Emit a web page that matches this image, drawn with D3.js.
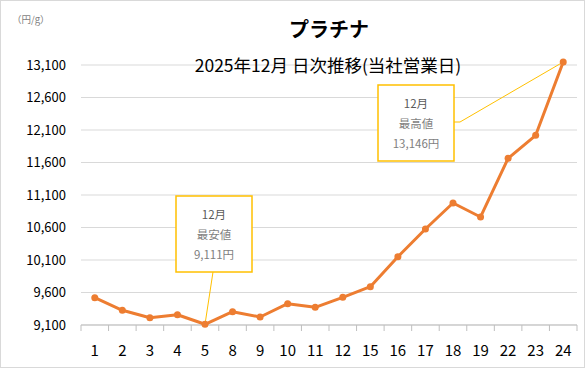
<!DOCTYPE html>
<html>
<head>
<meta charset="utf-8">
<script src="https://cdn.jsdelivr.net/npm/d3@7"></script>
<style>
  body { margin: 0; background: #fff; }
  text { font-family: "Noto Sans CJK JP", "Noto Sans", sans-serif; }
</style>
</head>
<body>
<div id="chart"></div>
<script>
// days (business days) and price in yen per gram
var days = ["1", "2", "3", "4", "5", "8", "9", "10", "11", "12", "15", "16", "17", "18", "19", "22", "23", "24"];
var prices = [9520, 9326, 9212, 9258, 9111, 9305, 9223, 9428, 9372, 9526, 9690, 10151, 10577, 10977, 10762, 11664, 12018, 13146];
var yTicks = [9100, 9600, 10100, 10600, 11100, 11600, 12100, 12600, 13100];

var width = 585,
    height = 368;

var lineColor = "#ED7D31",
    boxColor = "#FFC000";

var svg = d3.select("#chart")
  .append("svg")
  .attr("width", width)
  .attr("height", height);

// chart frame
svg.append("rect")
  .attr("x", 0.5).attr("y", 0.5)
  .attr("width", width - 1).attr("height", height - 1)
  .attr("fill", "#fff")
  .attr("stroke", "#d9d9d9");

var x = d3.scaleBand()
  .domain(days)
  .range([81, 577]);

var y = d3.scaleLinear()
  .domain([9100, 13100])
  .range([325, 65]);

// gridlines
svg.append("g")
  .selectAll("line")
  .data(yTicks)
  .enter().append("line")
  .attr("x1", 81).attr("x2", 577)
  .attr("y1", (d) => y(d)).attr("y2", (d) => y(d))
  .attr("stroke", "#d9d9d9")
  .attr("stroke-width", 1);

// y labels
svg.append("g")
  .selectAll("text")
  .data(yTicks)
  .enter().append("text")
  .attr("x", 66)
  .attr("y", (d) => y(d) + 4.5)
  .attr("text-anchor", "end")
  .attr("font-size", 13)
  .attr("fill", "#000")
  .text((d) => d3.format(",")(d));

// x axis with ticks between categories
var xAxis = svg.append("g")
  .attr("transform", "translate(0," + y(9100) + ")");
xAxis.append("line")
  .attr("x1", 81).attr("x2", 577)
  .attr("stroke", "#bfbfbf");
xAxis.selectAll("line.tick")
  .data(days.concat(["end"]))
  .enter().append("line")
  .attr("class", "tick")
  .attr("x1", (d, i) => i < days.length ? x(d) : 577)
  .attr("x2", (d, i) => i < days.length ? x(d) : 577)
  .attr("y1", 0).attr("y2", 6)
  .attr("stroke", "#bfbfbf");
xAxis.selectAll("text")
  .data(days)
  .enter().append("text")
  .attr("x", (d) => x(d) + x.bandwidth() / 2)
  .attr("y", 31)
  .attr("text-anchor", "middle")
  .attr("font-size", 15)
  .attr("fill", "#000")
  .text((d) => d);

// titles
svg.append("text")
  .attr("x", 329).attr("y", 37)
  .attr("text-anchor", "middle")
  .attr("font-size", 20)
  .attr("font-weight", "bold")
  .text("プラチナ");

svg.append("text")
  .attr("x", 328).attr("y", 72)
  .attr("text-anchor", "middle")
  .attr("font-size", 17.5)
  .attr("fill", "#000")
  .text("2025年12月 日次推移(当社営業日)");

svg.append("text")
  .attr("x", 12).attr("y", 23)
  .attr("font-size", 9.5)
  .attr("fill", "#7f7f7f")
  .text("（円/g）");

// callouts
var minIdx = prices.indexOf(d3.min(prices)),
    maxIdx = prices.indexOf(d3.max(prices));
var cx = (i) => x(days[i]) + x.bandwidth() / 2;

function callout(bx, by, lines, leader) {
  var g = svg.append("g");
  g.append("path")
    .attr("d", d3.line()(leader))
    .attr("fill", "none")
    .attr("stroke", boxColor)
    .attr("stroke-width", 1);
  g.append("rect")
    .attr("x", bx).attr("y", by)
    .attr("width", 76).attr("height", 76)
    .attr("fill", "#fff")
    .attr("stroke", boxColor)
    .attr("stroke-width", 1.5);
  g.selectAll("text")
    .data(lines)
    .enter().append("text")
    .attr("x", bx + 38)
    .attr("y", (d, i) => by + 23 + i * 20)
    .attr("text-anchor", "middle")
    .attr("font-size", 11.5)
    .attr("fill", (d, i) => i == 0 ? "#595959" : "#7f7f7f")
    .text((d) => d);
}

callout(176, 196, ["12月", "最安値", d3.format(",")(prices[minIdx]) + "円"],
  [[213, 272], [cx(minIdx), y(prices[minIdx])]]);
callout(378, 85, ["12月", "最高値", d3.format(",")(prices[maxIdx]) + "円"],
  [[454, 122], [460, 122], [cx(maxIdx), y(prices[maxIdx])]]);

// the line and markers
svg.append("path")
  .datum(prices)
  .attr("d", d3.line()
    .x((d, i) => cx(i))
    .y((d) => y(d)))
  .attr("fill", "none")
  .attr("stroke", lineColor)
  .attr("stroke-width", 3)
  .attr("stroke-linejoin", "round");

svg.append("g")
  .selectAll("circle")
  .data(prices)
  .enter().append("circle")
  .attr("cx", (d, i) => cx(i))
  .attr("cy", (d) => y(d))
  .attr("r", 3.5)
  .attr("fill", lineColor);
</script>
</body>
</html>
